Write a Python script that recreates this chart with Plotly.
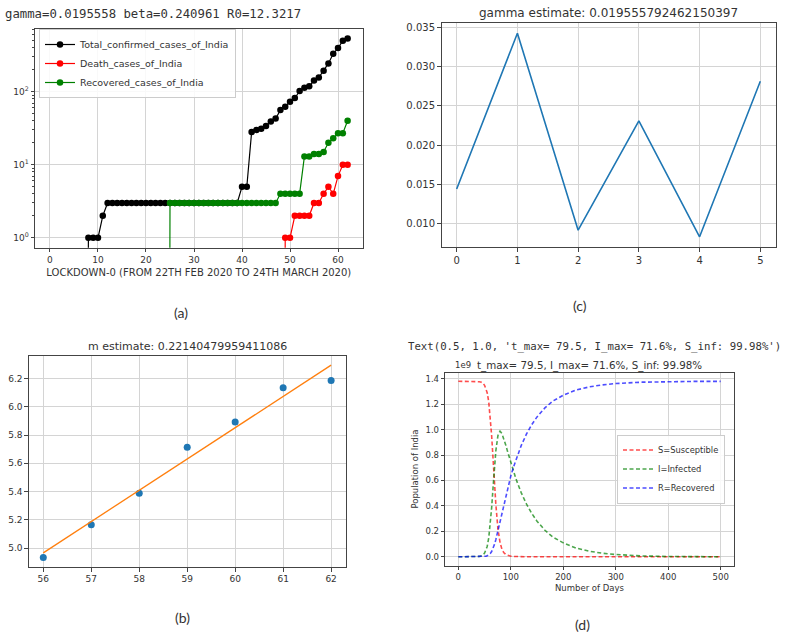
import plotly.graph_objects as go

W, H = 796, 634

# ---------------- panel (a): cumulative counts, day index from 22 Jan 2020
days_a = list(range(63))
total_confirmed = [0, 0, 0, 0, 0, 0, 0, 0, 1, 1, 1, 2, 3, 3, 3, 3, 3, 3, 3, 3,
                   3, 3, 3, 3, 3, 3, 3, 3, 3, 3, 3, 3, 3, 3, 3, 3, 3, 3, 3, 3,
                   5, 5, 28, 30, 31, 34, 39, 43, 56, 62, 73, 82, 102, 113, 119,
                   142, 156, 194, 244, 330, 396, 499, 536]
death_cases = [0, 0, 0, 0, 0, 0, 0, 0, 0, 0, 0, 0, 0, 0, 0, 0, 0, 0, 0, 0,
               0, 0, 0, 0, 0, 0, 0, 0, 0, 0, 0, 0, 0, 0, 0, 0, 0, 0, 0, 0,
               0, 0, 0, 0, 0, 0, 0, 0, 0, 1, 1, 2, 2, 2, 2, 3, 3, 4, 5, 4,
               7, 10, 10]
recovered_cases = [0, 0, 0, 0, 0, 0, 0, 0, 0, 0, 0, 0, 0, 0, 0, 0, 0, 0, 0, 0,
                   0, 0, 0, 0, 0, 3, 3, 3, 3, 3, 3, 3, 3, 3, 3, 3, 3, 3, 3, 3,
                   3, 3, 3, 3, 3, 3, 3, 3, 4, 4, 4, 4, 4, 13, 13, 14, 14, 15,
                   20, 23, 27, 27, 40]

# ---------------- panel (b): log of active cases and linear fit
days_b = [56, 57, 58, 59, 60, 61, 62]
log_active = [4.9345, 5.1648, 5.3891, 5.7137, 5.8916, 6.1356, 6.1862]
log_fit = [4.9666, 5.1880, 5.4094, 5.6308, 5.8522, 6.0736, 6.2950]

# ---------------- panel (c): daily gamma estimates
idx_c = [0, 1, 2, 3, 4, 5]
gamma_vals = [0.014388, 0.034286, 0.009132, 0.023102, 0.008287, 0.028139]

# ---------------- panel (d): SIR curves (units of 1e9 people)
days_d = [0, 20, 30, 36, 40, 44, 47, 50, 53, 55, 58, 61, 63.5, 66.5, 69, 71.5,
          75.5, 79.5, 83, 86.5, 90.5, 94.5, 100, 105, 110, 120, 130, 140, 150,
          165, 180, 200, 225, 250, 275, 300, 350, 400, 450, 500]
S_vals = [1.380, 1.380, 1.380, 1.3786, 1.3765, 1.3717, 1.3639, 1.3483, 1.321,
          1.2907, 1.217, 1.095, 0.954, 0.752, 0.575, 0.412, 0.220, 0.112,
          0.0615, 0.034, 0.018, 0.010, 0.005, 0.003, 0.0015, 0.0006, 0.0003,
          0.0002, 0.0001, 0.0, 0.0, 0.0, 0.0, 0.0, 0.0, 0.0, 0.0, 0.0, 0.0, 0.0]
I_vals = [0.0, 0.0, 0.0003, 0.0013, 0.0032, 0.0076, 0.0148, 0.0290, 0.0541,
          0.0818, 0.1489, 0.259, 0.385, 0.561, 0.707, 0.833, 0.954, 0.987,
          0.970, 0.932, 0.877, 0.819, 0.740, 0.673, 0.611, 0.503, 0.414,
          0.341, 0.280, 0.209, 0.156, 0.110, 0.068, 0.044, 0.028, 0.018,
          0.007, 0.0025, 0.001, 0.0004]
R_vals = [0.0, 0.0, 0.0, 0.0001, 0.0003, 0.0007, 0.0013, 0.0027, 0.0049,
          0.0075, 0.0141, 0.026, 0.0414, 0.068, 0.098, 0.135, 0.205, 0.281,
          0.349, 0.414, 0.485, 0.551, 0.635, 0.704, 0.767, 0.876, 0.966,
          1.039, 1.100, 1.171, 1.224, 1.270, 1.312, 1.336, 1.352, 1.362,
          1.373, 1.3775, 1.379, 1.3796]

# log axis cannot show zeros: push them far below the visible range (like matplotlib clipping)
def clip_log(vals):
    return [v if v > 0 else 1e-30 for v in vals]

FONT = "DejaVu Sans"
TXT = "#333333"

fig = go.Figure()

# panel (a)
for name, vals, col in [("Total_confirmed_cases_of_India", total_confirmed, "black"),
                        ("Death_cases_of_India", death_cases, "#ff0000"),
                        ("Recovered_cases_of_India", recovered_cases, "#008000")]:
    fig.add_trace(go.Scatter(x=days_a, y=clip_log(vals), mode="lines+markers", name=name,
                             line=dict(color=col, width=1.2),
                             marker=dict(color=col, size=6.5),
                             xaxis="x", yaxis="y", legend="legend"))

# panel (b)
fig.add_trace(go.Scatter(x=days_b, y=log_active, mode="markers", showlegend=False,
                         marker=dict(color="#1f77b4", size=7), xaxis="x2", yaxis="y2"))
fig.add_trace(go.Scatter(x=days_b, y=log_fit, mode="lines", showlegend=False,
                         line=dict(color="#ff7f0e", width=1.3), xaxis="x2", yaxis="y2"))

# panel (c)
fig.add_trace(go.Scatter(x=idx_c, y=gamma_vals, mode="lines", showlegend=False,
                         line=dict(color="#1f77b4", width=1.6), xaxis="x3", yaxis="y3"))

# panel (d)
for name, vals, col in [("S=Susceptible", S_vals, "rgba(255,0,0,0.7)"),
                        ("I=Infected", I_vals, "rgba(0,128,0,0.7)"),
                        ("R=Recovered", R_vals, "rgba(0,0,255,0.7)")]:
    fig.add_trace(go.Scatter(x=days_d, y=vals, mode="lines", name=name,
                             line=dict(color=col, width=1.6, dash="4px,2.5px"),
                             xaxis="x4", yaxis="y4", legend="legend2"))


def ax(domain_px, horizontal, **kw):
    if horizontal:
        dom = [domain_px[0] / W, domain_px[1] / W]
    else:
        dom = [1 - domain_px[1] / H, 1 - domain_px[0] / H]
    d = dict(domain=dom, showline=True, linecolor="#444444", linewidth=1, mirror=True,
             ticks="outside", ticklen=3.5, tickwidth=1, tickcolor="#444444",
             showgrid=True, gridcolor="#d4d4d4", gridwidth=1, zeroline=False,
             tickfont=dict(family=FONT, size=9, color=TXT), automargin=False,
             fixedrange=True)
    d.update(kw)
    return d

minor_log = [2, 3, 4, 5, 6, 7, 8, 9, 20, 30, 40, 50, 60, 70, 80, 90,
             200, 300, 400, 500, 600, 700]

fig.update_layout(
    width=W, height=H, margin=dict(l=0, r=0, t=0, b=0),
    paper_bgcolor="white", plot_bgcolor="white",
    font=dict(family=FONT, color=TXT),
    xaxis=ax((35.1, 362.5), True, anchor="y", range=[-3.1, 65.1], dtick=10, tick0=0,
             title=dict(text="LOCKDOWN-0 (FROM 22TH FEB 2020 TO 24TH MARCH 2020)",
                        font=dict(family=FONT, size=10, color=TXT), standoff=4)),
    yaxis=ax((28.5, 247.8), False, anchor="x", type="log", range=[-0.1365, 2.865],
             tickmode="array", tickvals=[1, 10, 100],
             ticktext=["10<sup>0</sup>", "10<sup>1</sup>", "10<sup>2</sup>"],
             minor=dict(tickmode="array", tickvals=minor_log, ticks="outside",
                        ticklen=2, tickcolor="#444444", showgrid=False)),
    xaxis2=ax((28.9, 345.5), True, anchor="y2", range=[55.7, 62.3], dtick=1, tick0=56),
    yaxis2=ax((355.5, 567.0), False, anchor="x2", range=[4.8665, 6.363], dtick=0.2,
              tick0=5.0, tickformat=".1f"),
    xaxis3=ax((441.5, 775.5), True, anchor="y3", range=[-0.25, 5.25], dtick=1, tick0=0,
              tickfont=dict(family=FONT, size=10, color=TXT)),
    yaxis3=ax((23.0, 247.0), False, anchor="x3", range=[0.006987, 0.035586], dtick=0.005,
              tick0=0.010, tickformat=".3f", tickfont=dict(family=FONT, size=10, color=TXT)),
    xaxis4=ax((445.2, 733.8), True, anchor="y4", range=[-25, 525], dtick=100, tick0=0,
              tickfont=dict(family=FONT, size=8.5, color=TXT),
              title=dict(text="Number of Days", font=dict(family=FONT, size=8.5, color=TXT),
                         standoff=3)),
    yaxis4=ax((372.5, 565.6), False, anchor="x4", range=[-0.069, 1.449], dtick=0.2,
              tick0=0, tickformat=".1f", tickfont=dict(family=FONT, size=8.5, color=TXT),
              title=dict(text="Population of India", font=dict(family=FONT, size=8.5, color=TXT),
                         standoff=5)),
    legend=dict(x=39 / W, y=1 - 29 / H, xanchor="left", yanchor="top",
                bgcolor="rgba(255,255,255,0.85)", bordercolor="#cccccc", borderwidth=1,
                font=dict(family=FONT, size=9.5, color=TXT), itemwidth=30,
                tracegroupgap=0),
    legend2=dict(x=725 / W, y=1 - 469 / H, xanchor="right", yanchor="middle",
                 bgcolor="rgba(255,255,255,0.85)", bordercolor="#cccccc", borderwidth=1,
                 font=dict(family=FONT, size=8.3, color=TXT), itemwidth=30,
                 tracegroupgap=0),
    showlegend=True,
)


def note(text, px, py, size, family=FONT, xanchor="center"):
    fig.add_annotation(text=text, x=px / W, y=1 - py / H, xref="paper", yref="paper",
                       xanchor=xanchor, yanchor="middle", showarrow=False,
                       font=dict(family=family, size=size, color=TXT))

MONO = "DejaVu Sans Mono"
note("gamma=0.0195558 beta=0.240961 R0=12.3217", 3, 14, 12.3, MONO, "left")
note("gamma estimate: 0.019555792462150397", 608.5, 13.5, 12)
note("m estimate: 0.22140479959411086", 187, 346, 11)
note("Text(0.5, 1.0, 't_max= 79.5, I_max= 71.6%, S_inf: 99.98%')", 406, 346, 10.7, MONO, "left")
note("t_max= 79.5, I_max= 71.6%, S_inf: 99.98%", 589.5, 365, 10.3)
note("1e9", 453, 365, 8.5, FONT, "left")

CAP = "Lato"
note("(a)", 181, 312, 14, CAP)
note("(b)", 182, 617, 14, CAP)
note("(c)", 580, 305, 14, CAP)
note("(d)", 582, 624, 14, CAP)

# remove the browser's default 8px body margin so the figure fills the window exactly
fig.write_html("out.html",
               config={"displayModeBar": False},
               post_script="document.body.style.margin='0';document.body.style.overflow='hidden';")
